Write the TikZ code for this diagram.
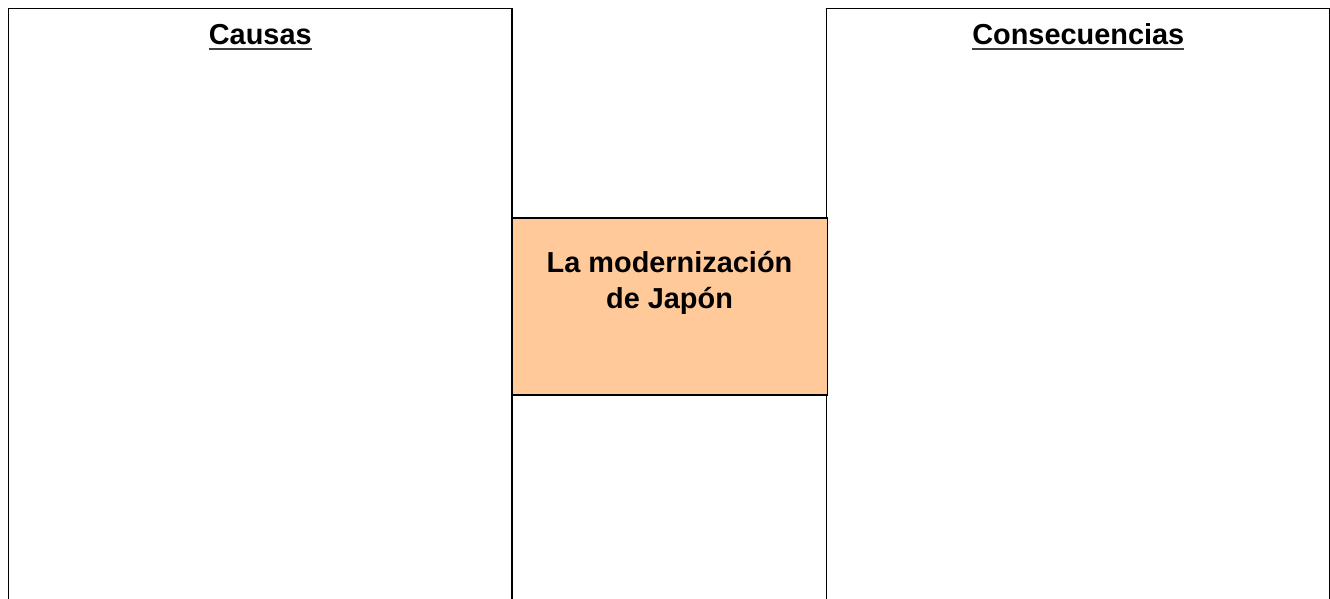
\documentclass[tikz,border=0pt]{standalone}
\usepackage{fontspec}
\setmainfont{Liberation Sans}
\usetikzlibrary{positioning}
\definecolor{peach}{HTML}{FFC999}
\tikzset{panel/.style = {shape = rectangle, draw, line width = 1.4bp, minimum width = 503.5bp, minimum height = 620bp, inner sep = 0pt, anchor = north}}
\tikzset{topic/.style = {shape = rectangle, draw, fill = peach, line width = 1.4bp, minimum width = 315.5bp, minimum height = 177bp, inner sep = 0pt}}
\tikzset{heading/.style = {font = \fontsize{29}{34}\selectfont\bfseries, inner sep = 0pt, anchor = base}}
\tikzset{uline/.style = {line width = 1.8bp, draw = black!75}}

\begin{document}
\begin{tikzpicture}[x = 1bp, y = -1bp]
	\useasboundingbox (0, 0) rectangle (1330, 599);

	\node[panel] (causes) at (260.25, 8) {};
	\node[panel] (effects) at (1078.25, 8) {};
	\node[topic] (topic) at (669.75, 306.5) {};

	\node[heading] (causestitle) at ([yshift = -37bp]causes.north) {Causas};
	\node[heading] (effectstitle) at ([yshift = -37bp]effects.north) {Consecuencias};
	\node[heading, align = center, anchor = center, font = \fontsize{29}{36}\selectfont\bfseries] (topictext) at (669.5, 283) {La modernización\\de Japón};

	\draw[uline] ([yshift = -4bp]causestitle.base west) -- ([yshift = -4bp]causestitle.base east);
	\draw[uline] ([yshift = -4bp]effectstitle.base west) -- ([yshift = -4bp]effectstitle.base east);
\end{tikzpicture}
\end{document}
